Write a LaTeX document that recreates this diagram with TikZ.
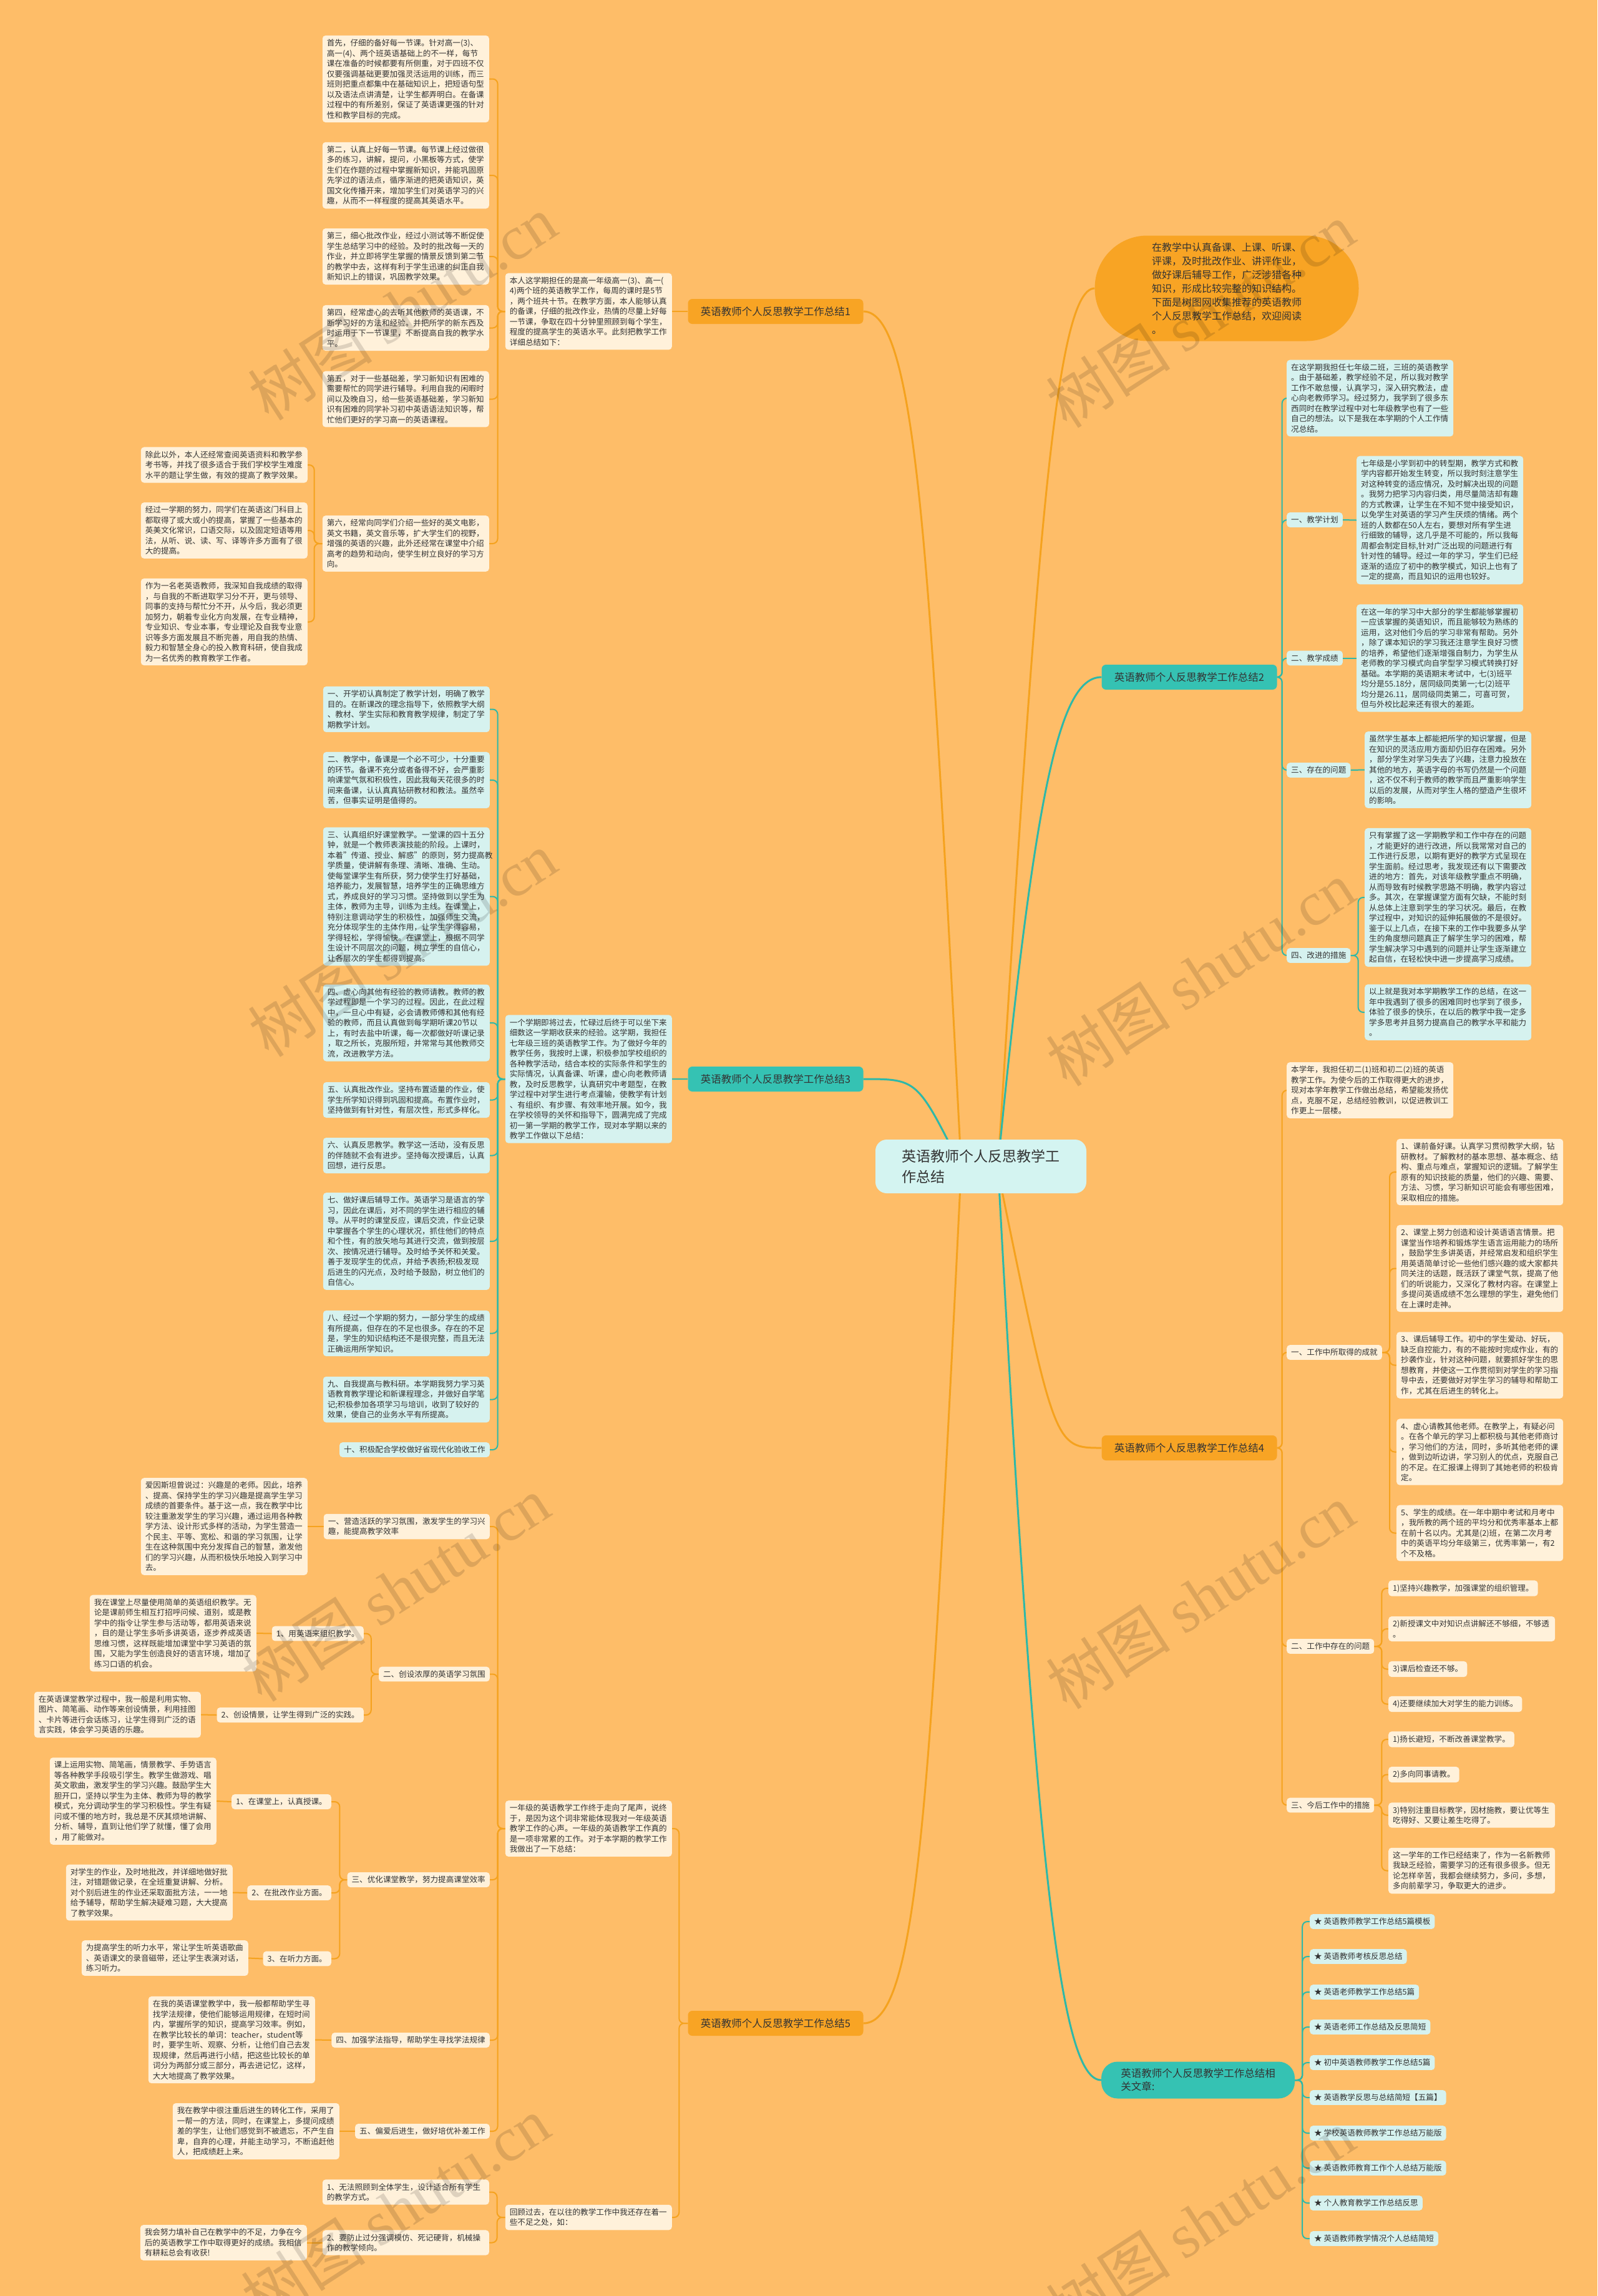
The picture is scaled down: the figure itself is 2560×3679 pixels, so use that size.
\documentclass[tikz,border=0pt]{standalone}
\usepackage{fontspec}
\setmainfont{Noto Sans CJK SC}
\newfontfamily\wmserif{Liberation Serif}
\usetikzlibrary{backgrounds}
\definecolor{bgc}{HTML}{FEBD68}
\definecolor{ocream}{HTML}{FFF1DA}
\definecolor{tcream}{HTML}{D6F2EF}
\definecolor{olc}{HTML}{F5A21E}
\definecolor{tlc}{HTML}{2EB8A8}
\definecolor{ofill}{HTML}{F8A424}
\definecolor{tfill}{HTML}{35C2B3}
\definecolor{ctrfill}{HTML}{D4F4F1}
\definecolor{txt}{HTML}{333333}
\newcommand\fsA{\fontsize{12.6}{16.5}\selectfont}
\newcommand\fsB{\fontsize{16.5}{21}\selectfont}
\newcommand\fsC{\fontsize{23}{33}\selectfont}
\newcommand\fsI{\fontsize{16}{22}\selectfont}
\tikzset{
 bx/.style={rounded corners=5pt, inner xsep=7pt, inner ysep=6pt, align=left, font=\fsA, text=txt},
 ob/.style={bx, fill=ocream},
 tb/.style={bx, fill=tcream},
 wd/.style={text width=253pt},
 ol/.style={draw=olc, line width=2pt, rounded corners=8pt},
 tl/.style={draw=tlc, line width=2pt, rounded corners=8pt},
 cl/.style={line width=3pt},
 lvo/.style={fill=ofill, rounded corners=7pt, minimum width=281pt, minimum height=40pt, font=\fsB, text=txt, inner sep=2pt},
 lvt/.style={fill=tfill, rounded corners=7pt, minimum width=281pt, minimum height=40pt, font=\fsB, text=txt, inner sep=2pt},
 wm/.style={rotate=33, text=black, opacity=0.13, font=\fontsize{100}{100}\selectfont}
}
\begin{document}
\begin{tikzpicture}[x=1pt,y=-1pt]
\useasboundingbox (0,0) rectangle (2560,3679);
\begin{pgfonlayer}{background}
\fill[bgc] (0,0) rectangle (2560,3679);
\end{pgfonlayer}

% ---------- center and intro ----------
\node[fill=ctrfill, rounded corners=18pt, minimum width=338pt, minimum height=86pt, align=left, font=\fsC, text=txt] (ctr) at (1572,1869) {英语教师个人反思教学工\\作总结};
\node[fill=ofill, rounded corners=84pt, minimum width=423pt, minimum height=169pt, text width=240pt, align=left, font=\fsI, text=txt, inner sep=0pt] (intro) at (1966,462) {在教学中认真备课、上课、听课、\\评课，及时批改作业、讲评作业，\\做好课后辅导工作，广泛涉猎各种\\知识，形成比较完整的知识结构。\\下面是树图网收集推荐的英语教师\\个人反思教学工作总结，欢迎阅读\\。};

% ---------- level 1 ----------
\node[lvo] (b1) at (1243,499) {英语教师个人反思教学工作总结1};
\node[lvt] (b3) at (1243,1729) {英语教师个人反思教学工作总结3};
\node[lvo] (b5) at (1243,3242) {英语教师个人反思教学工作总结5};
\node[lvt] (b2) at (1906,1085) {英语教师个人反思教学工作总结2};
\node[lvo] (b4) at (1906,2320) {英语教师个人反思教学工作总结4};
\node[fill=tfill, rounded corners=26pt, minimum width=310pt, minimum height=59pt, align=left, font=\fsB, text=txt] (b6) at (1920,3333) {英语教师个人反思教学工作总结相\\关文章:};

% ---------- branch 1 ----------
\node[ob,wd,anchor=east] (T1) at (1077,499) {本人这学期担任的是高一年级高一(3)、高一(\\4)两个班的英语教学工作，每周的课时是5节\\，两个班共十节。在教学方面，本人能够认真\\的备课，仔细的批改作业，热情的尽量上好每\\一节课，争取在四十分钟里照顾到每个学生，\\程度的提高学生的英语水平。此刻把教学工作\\详细总结如下：};
\node[ob,wd,anchor=east] (c1) at (784,126.5) {首先，仔细的备好每一节课。针对高一(3)、\\高一(4)、两个班英语基础上的不一样，每节\\课在准备的时候都要有所侧重，对于四班不仅\\仅要强调基础更要加强灵活运用的训练，而三\\班则把重点都集中在基础知识上，把短语句型\\以及语法点讲清楚，让学生都弄明白。在备课\\过程中的有所差别，保证了英语课更强的针对\\性和教学目标的完成。};
\node[ob,wd,anchor=east] (c2) at (784,281) {第二，认真上好每一节课。每节课上经过做很\\多的练习，讲解，提问，小黑板等方式，使学\\生们在作题的过程中掌握新知识，并能巩固原\\先学过的语法点，循序渐进的把英语知识，英\\国文化传播开来，增加学生们对英语学习的兴\\趣，从而不一样程度的提高其英语水平。};
\node[ob,wd,anchor=east] (c3) at (784,411) {第三，细心批改作业，经过小测试等不断促使\\学生总结学习中的经验。及时的批改每一天的\\作业，并立即将学生掌握的情景反馈到第二节\\的教学中去，这样有利于学生迅速的纠正自我\\新知识上的错误，巩固教学效果。};
\node[ob,wd,anchor=east] (c4) at (784,525.5) {第四，经常虚心的去听其他教师的英语课，不\\断学习好的方法和经验。并把所学的新东西及\\时运用于下一节课里，不断提高自我的教学水\\平。};
\node[ob,wd,anchor=east] (c5) at (784,639.5) {第五，对于一些基础差，学习新知识有困难的\\需要帮忙的同学进行辅导。利用自我的闲暇时\\间以及晚自习，给一些英语基础差，学习新知\\识有困难的同学补习初中英语语法知识等，帮\\忙他们更好的学习高一的英语课程。};
\node[ob,wd,anchor=east] (c6) at (784,871) {第六，经常向同学们介绍一些好的英文电影，\\英文书籍，英文音乐等，扩大学生们的视野，\\增强的英语的兴趣，此外还经常在课堂中介绍\\高考的趋势和动向，使学生树立良好的学习方\\向。};
\node[ob,wd,anchor=east] (d1) at (493,745) {除此以外，本人还经常查阅英语资料和教学参\\考书等，并找了很多适合于我们学校学生难度\\水平的题让学生做，有效的提高了教学效果。};
\node[ob,wd,anchor=east] (d2) at (493,850) {经过一学期的努力，同学们在英语这门科目上\\都取得了或大或小的提高，掌握了一些基本的\\英美文化常识，口语交际，以及固定短语等用\\法，从听、说、读、写、译等许多方面有了很\\大的提高。};
\node[ob,wd,anchor=east] (d3) at (493,996.5) {作为一名老英语教师，我深知自我成绩的取得\\，与自我的不断进取学习分不开，更与领导、\\同事的支持与帮忙分不开，从今后，我必须更\\加努力，朝着专业化方向发展，在专业精神，\\专业知识、专业本事，专业理论及自我专业意\\识等多方面发展且不断完善，用自我的热情、\\毅力和智慧全身心的投入教育科研，使自我成\\为一名优秀的教育教学工作者。};

% ---------- branch 3 ----------
\node[tb,wd,anchor=east] (T3) at (1077,1729) {一个学期即将过去，忙碌过后终于可以坐下来\\细数这一学期收获来的经验。这学期，我担任\\七年级三班的英语教学工作。为了做好今年的\\教学任务，我按时上课，积极参加学校组织的\\各种教学活动，结合本校的实际条件和学生的\\实际情况，认真备课、听课，虚心向老教师请\\教，及时反思教学，认真研究中考题型，在教\\学过程中对学生进行考点灌输，使教学有计划\\、有组织、有步骤、有效率地开展。如今，我\\在学校领导的关怀和指导下，圆满完成了完成\\初一第一学期的教学工作，现对本学期以来的\\教学工作做以下总结：};
\node[tb,wd,anchor=east] (e1) at (785,1136.5) {一、开学初认真制定了教学计划，明确了教学\\目的。在新课改的理念指导下，依照教学大纲\\、教材、学生实际和教育教学规律，制定了学\\期教学计划。};
\node[tb,wd,anchor=east] (e2) at (785,1250) {二、教学中，备课是一个必不可少，十分重要\\的环节。备课不充分或者备得不好，会严重影\\响课堂气氛和积极性，因此我每天花很多的时\\间来备课，认认真真钻研教材和教法。虽然辛\\苦，但事实证明是值得的。};
\node[tb,wd,anchor=east] (e3) at (785,1436.5) {三、认真组织好课堂教学。一堂课的四十五分\\钟，就是一个教师表演技能的阶段。上课时，\\本着"传道、授业、解惑"的原则，努力提高教\\学质量，使讲解有条理、清晰、准确、生动。\\使每堂课学生有所获，努力使学生打好基础，\\培养能力，发展智慧，培养学生的正确思维方\\式，养成良好的学习习惯。坚持做到以学生为\\主体，教师为主导，训练为主线。在课堂上，\\特别注意调动学生的积极性，加强师生交流，\\充分体现学生的主体作用，让学生学得容易，\\学得轻松，学得愉快。在课堂上，根据不同学\\生设计不同层次的问题，树立学生的自信心，\\让各层次的学生都得到提高。};
\node[tb,wd,anchor=east] (e4) at (785,1639) {四、虚心向其他有经验的教师请教。教师的教\\学过程即是一个学习的过程。因此，在此过程\\中，一旦心中有疑，必会请教师傅和其他有经\\验的教师，而且认真做到每学期听课20节以\\上，有时去盐中听课，每一次都做好听课记录\\，取之所长，克服所短，并常常与其他教师交\\流，改进教学方法。};
\node[tb,wd,anchor=east] (e5) at (785,1762.5) {五、认真批改作业。坚持布置适量的作业，使\\学生所学知识得到巩固和提高。布置作业时，\\坚持做到有针对性，有层次性，形式多样化。};
\node[tb,wd,anchor=east] (e6) at (785,1851.5) {六、认真反思教学。教学这一活动，没有反思\\的伴随就不会有进步。坚持每次授课后，认真\\回想，进行反思。};
\node[tb,wd,anchor=east] (e7) at (785,1989) {七、做好课后辅导工作。英语学习是语言的学\\习，因此在课后，对不同的学生进行相应的辅\\导。从平时的课堂反应，课后交流，作业记录\\中掌握各个学生的心理状况，抓住他们的特点\\和个性，有的放矢地与其进行交流，做到按层\\次、按情况进行辅导。及时给予关怀和关爱。\\善于发现学生的优点，并给予表扬;积极发现\\后进生的闪光点，及时给予鼓励，树立他们的\\自信心。};
\node[tb,wd,anchor=east] (e8) at (785,2136.5) {八、经过一个学期的努力，一部分学生的成绩\\有所提高，但存在的不足也很多。存在的不足\\是，学生的知识结构还不是很完整，而且无法\\正确运用所学知识。};
\node[tb,wd,anchor=east] (e9) at (785,2242.5) {九、自我提高与教科研。本学期我努力学习英\\语教育教学理论和新课程理念，并做好自学笔\\记;积极参加各项学习与培训，收到了较好的\\效果，使自己的业务水平有所提高。};
\node[tb,anchor=east] (e10) at (785,2323) {十、积极配合学校做好省现代化验收工作};

% ---------- branch 5 ----------
\node[ob,wd,anchor=east] (T5a) at (1077,2930) {一年级的英语教学工作终于走向了尾声，说终\\于，是因为这个词非常能体现我对一年级英语\\教学工作的心声。一年级的英语教学工作真的\\是一项非常累的工作。对于本学期的教学工作\\我做出了一下总结：};
\node[ob,wd,anchor=east] (T5b) at (1077,3553) {回顾过去，在以往的教学工作中我还存在着一\\些不足之处，如：};
\node[ob,anchor=east] (f1) at (785,2446) {一、营造活跃的学习氛围，激发学生的学习兴\\趣，能提高教学效率};
\node[ob,anchor=east] (f2) at (785,2682.5) {二、创设浓厚的英语学习氛围};
\node[ob,anchor=east] (f3) at (785,3012) {三、优化课堂教学，努力提高课堂效率};
\node[ob,anchor=east] (f4) at (785,3269) {四、加强学法指导，帮助学生寻找学法规律};
\node[ob,anchor=east] (f5) at (785,3415) {五、偏爱后进生，做好培优补差工作};
\node[ob,wd,anchor=east] (f1x) at (493,2446) {爱因斯坦曾说过：兴趣是的老师。因此，培养\\、提高、保持学生的学习兴趣是提高学生学习\\成绩的首要条件。基于这一点，我在教学中比\\较注重激发学生的学习兴趣，通过运用各种教\\学方法、设计形式多样的活动，为学生营造一\\个民主、平等、宽松、和谐的学习氛围，让学\\生在这种氛围中充分发挥自己的智慧，激发他\\们的学习兴趣，从而积极快乐地投入到学习中\\去。};
\node[ob,anchor=east] (f2a) at (583,2617.5) {1、用英语来组织教学。};
\node[ob,anchor=east] (f2b) at (583,2748) {2、创设情景，让学生得到广泛的实践。};
\node[ob,wd,anchor=east] (f2ax) at (411,2617) {我在课堂上尽量使用简单的英语组织教学。无\\论是课前师生相互打招呼问候、道别，或是教\\学中的指令让学生参与活动等，都用英语来说\\，目的是让学生多听多讲英语，逐步养成英语\\思维习惯，这样既能增加课堂中学习英语的氛\\围，又能为学生创造良好的语言环境，增加了\\练习口语的机会。};
\node[ob,wd,anchor=east] (f2bx) at (322,2747.5) {在英语课堂教学过程中，我一般是利用实物、\\图片、简笔画、动作等来创设情景，利用挂图\\、卡片等进行会话练习，让学生得到广泛的语\\言实践，体会学习英语的乐趣。};
\node[ob,anchor=east] (f3a) at (531,2887) {1、在课堂上，认真授课。};
\node[ob,anchor=east] (f3b) at (531,3033) {2、在批改作业方面。};
\node[ob,anchor=east] (f3c) at (531,3138.5) {3、在听力方面。};
\node[ob,wd,anchor=east] (f3ax) at (347,2886) {课上运用实物、简笔画，情景教学、手势语言\\等各种教学手段吸引学生。教学生做游戏、唱\\英文歌曲，激发学生的学习兴趣。鼓励学生大\\胆开口，坚持以学生为主体、教师为导的教学\\模式，充分调动学生的学习积极性。学生有疑\\问或不懂的地方时，我总是不厌其烦地讲解、\\分析、辅导，直到让他们学了就懂，懂了会用\\，用了能做对。};
\node[ob,wd,anchor=east] (f3bx) at (373,3032.5) {对学生的作业，及时地批改，并详细地做好批\\注，对错题做记录，在全班重复讲解、分析。\\对个别后进生的作业还采取面批方法，一一地\\给予辅导，帮助学生解决疑难习题，大大提高\\了教学效果。};
\node[ob,wd,anchor=east] (f3cx) at (398,3137.5) {为提高学生的听力水平，常让学生听英语歌曲\\、英语课文的录音磁带，还让学生表演对话，\\练习听力。};
\node[ob,wd,anchor=east] (f4x) at (505,3268.5) {在我的英语课堂教学中，我一般都帮助学生寻\\找学法规律，使他们能够运用规律，在短时间\\内，掌握所学的知识，提高学习效率。例如，\\在教学比较长的单词：teacher，student等\\时，要学生听、观察、分析，让他们自己去发\\现规律，然后再进行小结，把这些比较长的单\\词分为两部分或三部分，再去进记忆，这样，\\大大地提高了教学效果。};
\node[ob,wd,anchor=east] (f5x) at (544,3415) {我在教学中很注重后进生的转化工作，采用了\\一帮一的方法，同时，在课堂上，多提问成绩\\差的学生，让他们感觉到不被遗忘，不产生自\\卑，自弃的心理，并能主动学习，不断追赶他\\人，把成绩赶上来。};
\node[ob,wd,anchor=east] (g1) at (784,3512.5) {1、无法照顾到全体学生，设计适合所有学生\\的教学方式。};
\node[ob,wd,anchor=east] (g2) at (784,3593.5) {2、要防止过分强调模仿、死记硬背，机械操\\作的教学倾向。};
\node[ob,wd,anchor=east] (g2x) at (492,3593.5) {我会努力填补自己在教学中的不足，力争在今\\后的英语教学工作中取得更好的成绩。我相信\\有耕耘总会有收获!};

% ---------- branch 2 ----------
\node[tb,wd,anchor=west] (T2) at (2062,638) {在这学期我担任七年级二班，三班的英语教学\\。由于基础差，教学经验不足，所以我对教学\\工作不敢怠慢，认真学习，深入研究教法，虚\\心向老教师学习。经过努力，我学到了很多东\\西同时在教学过程中对七年级教学也有了一些\\自己的想法。以下是我在本学期的个人工作情\\况总结。};
\node[tb,anchor=west] (h1) at (2062,833) {一、教学计划};
\node[tb,anchor=west] (h2) at (2062,1054.5) {二、教学成绩};
\node[tb,anchor=west] (h3) at (2062,1234) {三、存在的问题};
\node[tb,anchor=west] (h4) at (2062,1531) {四、改进的措施};
\node[tb,wd,anchor=west] (h1x) at (2174,833.5) {七年级是小学到初中的转型期，教学方式和教\\学内容都开始发生转变，所以我时刻注意学生\\对这种转变的适应情况，及时解决出现的问题\\。我努力把学习内容归类，用尽量简洁却有趣\\的方式教课，让学生在不知不觉中接受知识，\\以免学生对英语的学习产生厌烦的情绪。两个\\班的人数都在50人左右，要想对所有学生进\\行细致的辅导，这几乎是不可能的，所以我每\\周都会制定目标,针对广泛出现的问题进行有\\针对性的辅导。经过一年的学习，学生们已经\\逐渐的适应了初中的教学模式，知识上也有了\\一定的提高，而且知识的运用也较好。};
\node[tb,wd,anchor=west] (h2x) at (2174,1054.5) {在这一年的学习中大部分的学生都能够掌握初\\一应该掌握的英语知识，而且能够较为熟练的\\运用，这对他们今后的学习非常有帮助。另外\\，除了课本知识的学习我还注意学生良好习惯\\的培养，希望他们逐渐增强自制力，为学生从\\老师教的学习模式向自学型学习模式转换打好\\基础。本学期的英语期末考试中，七(3)班平\\均分是55.18分，居同级同类第一;七(2)班平\\均分是26.11，居同级同类第二，可喜可贺，\\但与外校比起来还有很大的差距。};
\node[tb,wd,anchor=west] (h3x) at (2187,1233.5) {虽然学生基本上都能把所学的知识掌握，但是\\在知识的灵活应用方面却仍旧存在困难。另外\\，部分学生对学习失去了兴趣，注意力投放在\\其他的地方，英语字母的书写仍然是一个问题\\，这不仅不利于教师的教学而且严重影响学生\\以后的发展，从而对学生人格的塑造产生很坏\\的影响。};
\node[tb,wd,anchor=west] (h4a) at (2187,1438) {只有掌握了这一学期教学和工作中存在的问题\\，才能更好的进行改进，所以我常常对自己的\\工作进行反思，以期有更好的教学方式呈现在\\学生面前。经过思考，我发现还有以下需要改\\进的地方：首先，对该年级教学重点不明确，\\从而导致有时候教学思路不明确，教学内容过\\多。其次，在掌握课堂方面有欠缺，不能时刻\\从总体上注意到学生的学习状况。最后，在教\\学过程中，对知识的延伸拓展做的不是很好。\\鉴于以上几点，在接下来的工作中我要多从学\\生的角度想问题真正了解学生学习的困难，帮\\学生解决学习中遇到的问题并让学生逐渐建立\\起自信，在轻松快中进一步提高学习成绩。};
\node[tb,wd,anchor=west] (h4b) at (2187,1622) {以上就是我对本学期教学工作的总结，在这一\\年中我遇到了很多的困难同时也学到了很多，\\体验了很多的快乐，在以后的教学中我一定多\\学多思考并且努力提高自己的教学水平和能力\\。};

% ---------- branch 4 ----------
\node[ob,wd,anchor=west] (T4) at (2062,1747) {本学年，我担任初二(1)班和初二(2)班的英语\\教学工作。为使今后的工作取得更大的进步，\\现对本学年教学工作做出总结，希望能发扬优\\点，克服不足，总结经验教训，以促进教训工\\作更上一层楼。};
\node[ob,anchor=west] (i1) at (2062,2167) {一、工作中所取得的成就};
\node[ob,anchor=west] (i2) at (2062,2638) {二、工作中存在的问题};
\node[ob,anchor=west] (i3) at (2062,2892.5) {三、今后工作中的措施};
\node[ob,wd,anchor=west] (i1a) at (2238,1878) {1、课前备好课。认真学习贯彻教学大纲，钻\\研教材。了解教材的基本思想、基本概念、结\\构、重点与难点，掌握知识的逻辑。了解学生\\原有的知识技能的质量，他们的兴趣、需要、\\方法、习惯，学习新知识可能会有哪些困难，\\采取相应的措施。};
\node[ob,wd,anchor=west] (i1b) at (2238,2032.5) {2、课堂上努力创造和设计英语语言情景。把\\课堂当作培养和锻炼学生语言运用能力的场所\\，鼓励学生多讲英语，并经常启发和组织学生\\用英语简单讨论一些他们感兴趣的或大家都共\\同关注的话题，既活跃了课堂气氛，提高了他\\们的听说能力，又深化了教材内容。在课堂上\\多提问英语成绩不怎么理想的学生，避免他们\\在上课时走神。};
\node[ob,wd,anchor=west] (i1c) at (2238,2187.5) {3、课后辅导工作。初中的学生爱动、好玩，\\缺乏自控能力，有的不能按时完成作业，有的\\抄袭作业，针对这种问题，就要抓好学生的思\\想教育，并使这一工作贯彻到对学生的学习指\\导中去，还要做好对学生学习的辅导和帮助工\\作，尤其在后进生的转化上。};
\node[ob,wd,anchor=west] (i1d) at (2238,2326.5) {4、虚心请教其他老师。在教学上，有疑必问\\。在各个单元的学习上都积极与其他老师商讨\\，学习他们的方法，同时，多听其他老师的课\\，做到边听边讲，学习别人的优点，克服自己\\的不足。在汇报课上得到了其她老师的积极肯\\定。};
\node[ob,wd,anchor=west] (i1e) at (2238,2456.5) {5、学生的成绩。在一年中期中考试和月考中\\，我所教的两个班的平均分和优秀率基本上都\\在前十名以内。尤其是(2)班，在第二次月考\\中的英语平均分年级第三，优秀率第一，有2\\个不及格。};
\node[ob,anchor=west] (i2a) at (2225,2545) {1)坚持兴趣教学，加强课堂的组织管理。};
\node[ob,wd,anchor=west] (i2b) at (2225,2610) {2)新授课文中对知识点讲解还不够细，不够透\\。};
\node[ob,anchor=west] (i2c) at (2225,2674.5) {3)课后检查还不够。};
\node[ob,anchor=west] (i2d) at (2225,2730.5) {4)还要继续加大对学生的能力训练。};
\node[ob,anchor=west] (i3a) at (2225,2787) {1)扬长避短，不断改善课堂教学。};
\node[ob,anchor=west] (i3b) at (2225,2843.5) {2)多向同事请教。};
\node[ob,wd,anchor=west] (i3c) at (2225,2908.5) {3)特别注重目标教学，因材施教，要让优等生\\吃得好、又要让差生吃得了。};
\node[ob,wd,anchor=west] (i3d) at (2225,2997.5) {这一学年的工作已经结束了，作为一名新教师\\我缺乏经验，需要学习的还有很多很多。但无\\论怎样辛苦，我都会继续努力，多问，多想，\\多向前辈学习，争取更大的进步。};

% ---------- related links ----------
\node[tb,anchor=west] (l1) at (2099,3079) {★ 英语教师教学工作总结5篇模板};
\node[tb,anchor=west] (l2) at (2099,3135) {★ 英语教师考核反思总结};
\node[tb,anchor=west] (l3) at (2099,3192) {★ 英语老师教学工作总结5篇};
\node[tb,anchor=west] (l4) at (2099,3248) {★ 英语老师工作总结及反思简短};
\node[tb,anchor=west] (l5) at (2099,3305) {★ 初中英语教师教学工作总结5篇};
\node[tb,anchor=west] (l6) at (2099,3361) {★ 英语教学反思与总结简短【五篇】};
\node[tb,anchor=west] (l7) at (2099,3418) {★ 学校英语教师教学工作总结万能版};
\node[tb,anchor=west] (l8) at (2099,3474) {★ 英语教师教育工作个人总结万能版};
\node[tb,anchor=west] (l9) at (2099,3530) {★ 个人教育教学工作总结反思};
\node[tb,anchor=west] (l10) at (2099,3587) {★ 英语教师教学情况个人总结简短};

% ---------- connectors ----------
\begin{pgfonlayer}{background}
% center curves
\draw[olc,cl] (1540,1860) .. controls (1490,900) and (1470,499) .. (b1.east);
\draw[tlc,cl] (1540,1869) .. controls (1470,1729) .. (b3.east);
\draw[olc,cl] (1540,1880) .. controls (1490,2900) and (1470,3242) .. (b5.east);
\draw[olc,cl] (1600,1860) .. controls (1660,900) and (1690,462) .. (intro.west);
\draw[tlc,cl] (1600,1860) .. controls (1660,1250) and (1700,1085) .. (b2.west);
\draw[olc,cl] (1600,1880) .. controls (1690,2320) .. (b4.west);
\draw[tlc,cl] (1600,1880) .. controls (1660,3000) and (1700,3333) .. (b6.west);
% branch 1
\draw[ol] (b1.west) -- (T1.east);
\foreach \c in {c1,c2,c3,c4,c5,c6} \draw[ol] (T1.west) -- ++(-12,0) |- (\c.east);
\foreach \c in {d1,d2,d3} \draw[ol] (c6.west) -- ++(-13,0) |- (\c.east);
% branch 3
\draw[tl] (b3.west) -- (T3.east);
\foreach \c in {e1,e2,e3,e4,e5,e6,e7,e8,e9,e10} \draw[tl] (T3.west) -- ++(-12,0) |- (\c.east);
% branch 5
\foreach \c in {T5a,T5b} \draw[ol] (b5.west) -- ++(-14,0) |- (\c.east);
\foreach \c in {f1,f2,f3,f4,f5} \draw[ol] (T5a.west) -- ++(-12,0) |- (\c.east);
\draw[ol] (f1.west) -- (f1x.east);
\foreach \c in {f2a,f2b} \draw[ol] (f2.west) -- ++(-12,0) |- (\c.east);
\draw[ol] (f2a.west) -- (f2ax.east);
\draw[ol] (f2b.west) -- (f2bx.east);
\foreach \c in {f3a,f3b,f3c} \draw[ol] (f3.west) -- ++(-12,0) |- (\c.east);
\draw[ol] (f3a.west) -- (f3ax.east);
\draw[ol] (f3b.west) -- (f3bx.east);
\draw[ol] (f3c.west) -- (f3cx.east);
\draw[ol] (f4.west) -- (f4x.east);
\draw[ol] (f5.west) -- (f5x.east);
\foreach \c in {g1,g2} \draw[ol] (T5b.west) -- ++(-13,0) |- (\c.east);
\draw[ol] (g2.west) -- (g2x.east);
% branch 2
\foreach \c in {T2,h1,h2,h3,h4} \draw[tl] (b2.east) -- ++(8,0) |- (\c.west);
\draw[tl] (h1.east) -- (h1x.west);
\draw[tl] (h2.east) -- (h2x.west);
\draw[tl] (h3.east) -- (h3x.west);
\foreach \c in {h4a,h4b} \draw[tl] (h4.east) -- ++(12,0) |- (\c.west);
% branch 4
\foreach \c in {T4,i1,i2,i3} \draw[ol] (b4.east) -- ++(8,0) |- (\c.west);
\foreach \c in {i1a,i1b,i1c,i1d,i1e} \draw[ol] (i1.east) -- ++(12,0) |- (\c.west);
\foreach \c in {i2a,i2b,i2c,i2d} \draw[ol] (i2.east) -- ++(12,0) |- (\c.west);
\foreach \c in {i3a,i3b,i3c,i3d} \draw[ol] (i3.east) -- ++(12,0) |- (\c.west);
% related
\foreach \c in {l1,l2,l3,l4,l5,l6,l7,l8,l9,l10} \draw[tl] (b6.east) -- ++(12,0) |- (\c.west);
\end{pgfonlayer}

% ---------- watermarks ----------
\foreach \x/\y/\i in {645/493/1, 1924/505/2, 645/1513/3, 1924/1560/4, 634/2546/5, 1924/2558/6, 634/3540/7, 1924/3560/8}
  \node[wm] (wm\i) at (\x,\y) {树图 {\wmserif shutu.cn}};
\end{tikzpicture}
\end{document}
